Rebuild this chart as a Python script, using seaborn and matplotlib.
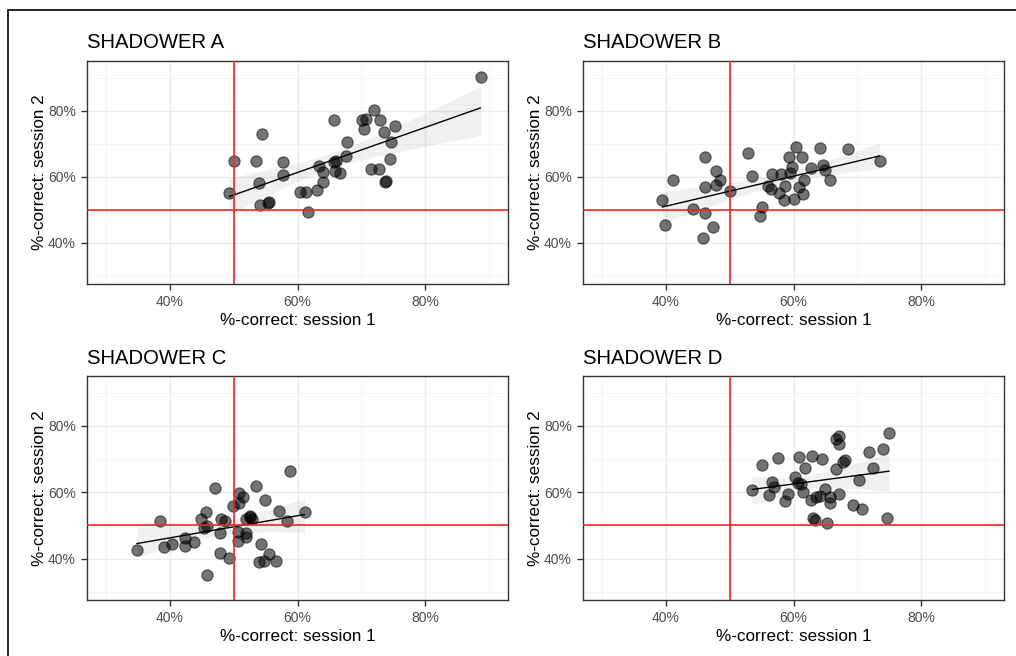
import numpy as np
import pandas as pd
import matplotlib
matplotlib.use("Agg")
import matplotlib.pyplot as plt
import seaborn as sns
from matplotlib.ticker import FixedLocator, FuncFormatter

sns.set_theme(style="white")
plt.rcParams['font.family'] = ['Liberation Sans', 'DejaVu Sans']

# ---------------- data (percent correct) ----------------
a_s1 = [88.7, 72.0, 70.1, 70.7, 72.9, 65.7, 75.3, 70.4, 73.6, 54.5, 74.6, 67.8, 67.6,
        66.0, 65.8, 63.4, 50.0, 53.5, 57.8, 74.5, 71.6, 72.8, 64.0, 65.9, 66.7, 57.8,
        54.0, 64.0, 73.9, 73.7, 63.0, 60.4, 61.3, 49.3, 55.5, 55.3, 54.1, 61.6]
a_s2 = [90.3, 80.2, 77.2, 77.4, 77.0, 77.1, 75.2, 74.4, 73.4, 72.8, 70.6, 70.4, 66.1,
        64.8, 64.4, 63.3, 64.7, 64.7, 64.5, 65.3, 62.3, 62.3, 61.3, 61.7, 61.2, 60.5,
        58.0, 58.3, 58.8, 58.5, 56.0, 55.4, 55.4, 55.0, 52.4, 52.1, 51.5, 49.4]

b_s1 = [60.4, 64.1, 68.5, 52.8, 46.2, 59.3, 61.4, 73.5, 64.7, 62.7, 59.8, 64.9, 47.9,
        56.7, 58.0, 59.5, 53.5, 41.1, 48.4, 61.7, 65.7, 47.8, 46.1, 56.0, 58.6, 56.4,
        60.9, 50.1, 57.7, 61.5, 39.4, 58.5, 60.0, 55.1, 44.2, 46.1, 54.8, 39.8, 47.4, 45.8]
b_s2 = [68.9, 68.6, 68.3, 67.3, 65.9, 65.9, 65.8, 64.7, 63.5, 62.7, 62.8, 62.0, 61.7,
        60.9, 60.9, 61.0, 60.2, 58.9, 59.0, 59.0, 59.0, 57.4, 56.8, 57.3, 57.2, 56.2,
        56.8, 55.7, 55.0, 54.6, 52.9, 52.9, 53.3, 50.9, 50.1, 48.9, 48.1, 45.3, 44.8, 41.3]

c_s1 = [58.8, 53.5, 47.1, 50.8, 51.5, 54.9, 50.8, 49.9, 45.7, 57.1, 61.1, 44.8, 48.0,
        48.7, 52.6, 52.6, 52.0, 52.8, 38.5, 58.3, 45.8, 45.3, 47.9, 50.6, 52.0, 52.0,
        42.3, 43.7, 50.7, 42.4, 54.2, 40.4, 39.0, 34.8, 47.9, 55.5, 49.3, 54.0, 54.8,
        56.6, 45.8]
c_s2 = [66.4, 61.9, 61.1, 59.7, 58.6, 57.5, 56.6, 55.9, 54.1, 54.2, 54.1, 52.0, 52.0,
        51.2, 52.7, 52.5, 51.8, 51.8, 51.2, 51.2, 49.8, 49.2, 47.6, 48.1, 47.7, 46.4,
        46.1, 45.0, 45.4, 43.9, 44.4, 44.4, 43.5, 42.5, 41.7, 41.5, 40.3, 39.0, 39.3,
        39.4, 35.1]

d_s1 = [75.0, 67.2, 66.6, 67.2, 74.0, 71.9, 57.5, 60.9, 62.9, 64.5, 68.1, 67.8, 55.0,
        61.8, 66.6, 72.5, 60.3, 70.3, 56.7, 60.7, 61.2, 56.9, 53.5, 64.9, 61.5, 56.2,
        59.2, 67.2, 64.2, 63.5, 65.8, 58.7, 62.7, 65.7, 69.3, 70.7, 63.1, 63.3, 74.6, 65.3]
d_s2 = [77.7, 77.0, 76.0, 74.4, 72.9, 72.2, 70.2, 70.5, 70.8, 70.1, 69.6, 69.2, 68.1,
        67.4, 67.0, 67.4, 64.7, 63.7, 63.1, 62.9, 62.4, 61.6, 60.5, 60.9, 60.1, 59.2,
        59.4, 59.4, 58.9, 58.5, 58.5, 57.4, 57.5, 56.8, 56.2, 55.0, 52.3, 51.5, 52.1, 50.7]

titles = ["SHADOWER A", "SHADOWER B", "SHADOWER C", "SHADOWER D"]
x_ticks = [40, 60, 80]
y_ticks = [40, 60, 80]
ref_line = 50

panels = [(a_s1, a_s2), (b_s1, b_s2), (c_s1, c_s2), (d_s1, d_s2)]

W, H = 1016, 656
fig = plt.figure(figsize=(W / 100, H / 100), dpi=100)

# pixel boxes (left, top, right, bottom)
boxes = [(87, 61, 508, 284), (583, 61, 1004, 284),
         (87, 376, 508, 600), (583, 376, 1004, 600)]

pct = FuncFormatter(lambda v, p: f"{v:.0f}%")

for (s1, s2), title, (l, t, r, b) in zip(panels, titles, boxes):
    ax = fig.add_axes([l / W, 1 - b / H, (r - l) / W, (b - t) / H])
    df = pd.DataFrame({"s1": s1, "s2": s2})
    ax.set_xlim(27, 93)
    ax.set_ylim(27.5, 95)
    # grid
    ax.xaxis.set_major_locator(FixedLocator(x_ticks))
    ax.yaxis.set_major_locator(FixedLocator(y_ticks))
    ax.xaxis.set_minor_locator(FixedLocator([30, 50, 70, 90]))
    ax.yaxis.set_minor_locator(FixedLocator([30, 50, 70, 90]))
    ax.grid(True, which="major", color="#ebebeb", linewidth=1.0, zorder=0)
    ax.grid(True, which="minor", color="#f2f2f2", linewidth=0.6, zorder=0)
    ax.set_axisbelow(True)

    sns.regplot(data=df, x="s1", y="s2", ax=ax, ci=95, n_boot=1000, seed=1,
                color="black",
                scatter_kws=dict(s=66, alpha=0.55, edgecolor="black",
                                 linewidths=0.8, zorder=3),
                line_kws=dict(linewidth=1.0, zorder=4))
    for coll in ax.collections:
        if isinstance(coll, matplotlib.collections.PolyCollection):
            coll.set_alpha(0.06)
            coll.set_zorder(2)

    ax.axvline(ref_line, color="#ff2020", linewidth=1.2, zorder=5)
    ax.axhline(ref_line, color="#ff2020", linewidth=1.2, zorder=5)

    ax.xaxis.set_major_formatter(pct)
    ax.yaxis.set_major_formatter(pct)
    ax.tick_params(axis="both", which="major", length=4, width=1, color="#333333",
                   labelsize=10, labelcolor="#4d4d4d", pad=4, bottom=True, left=True)
    ax.tick_params(axis="both", which="minor", length=0)
    for sp in ax.spines.values():
        sp.set_color("#333333")
        sp.set_linewidth(1.0)
        sp.set_visible(True)
    ax.set_xlabel("%-correct: session 1", fontsize=12.3, color="black", labelpad=3)
    ax.set_ylabel("%-correct: session 2", fontsize=12.3, color="black", labelpad=0.5)
    ax.set_title(title, loc="left", fontsize=14.6, color="black", pad=9)

# outer frame (left and top edges of the image border)
fig.add_artist(plt.Line2D([8 / W, 8 / W], [0, 1 - 10 / H], color="black", linewidth=1.2))
fig.add_artist(plt.Line2D([8 / W, 1], [1 - 10 / H, 1 - 10 / H], color="black", linewidth=1.2))

fig.savefig("out.png", dpi=100, facecolor="white")
